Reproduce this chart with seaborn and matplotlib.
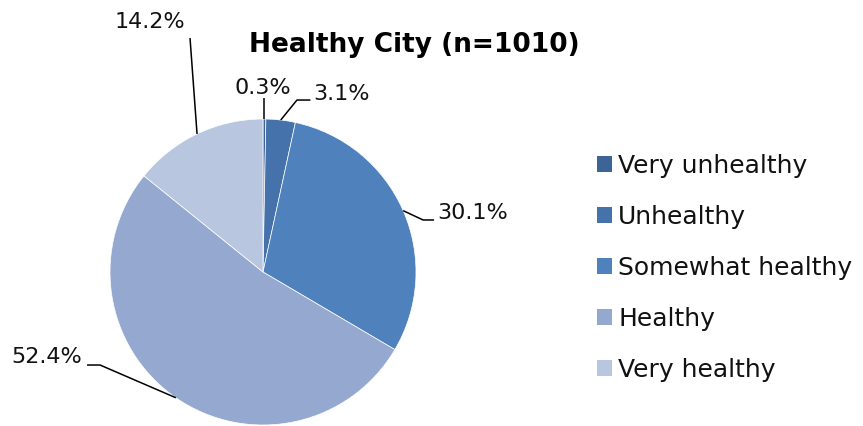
import numpy as np
import matplotlib
matplotlib.use("Agg")
import matplotlib.pyplot as plt
import seaborn as sns

# datos
categorias = ['Very unhealthy', 'Unhealthy', 'Somewhat healthy', 'Healthy', 'Very healthy']
porcentajes = [0.3, 3.1, 30.1, 52.4, 14.2]
colores = ['#3C6496', '#4572AA', '#4F81BD', '#95A9D0', '#B9C6E0']
titulo = 'Healthy City (n=1010)'

sns.set_theme(style="white")
plt.rcParams['font.family'] = ['DejaVu Sans']

fig = plt.figure(figsize=(8.63, 4.26), dpi=100)
ax = fig.add_axes([0, 0, 1, 1])

wedges, _ = ax.pie(porcentajes, colors=colores, startangle=90, counterclock=False,
                   radius=1, center=(0, 0), wedgeprops=dict(linewidth=0.5, edgecolor='white'))

# limites para que el pie quede en su sitio (px / 153)
ax.set_xlim(-263 / 153, 600 / 153)
ax.set_ylim(-154 / 153, 272 / 153)
ax.set_aspect('equal')
ax.axis('off')

# lineas guia: (codo, fin, pos texto, alineacion)
guias = [
    (None, (0.0, 1.14), (0.0, 1.20), 'center'),
    ((0.222, 1.124), (0.31, 1.124), (0.33, 1.165), 'left'),
    ((1.046, 0.340), (1.118, 0.340), (1.14, 0.386), 'left'),
    ((-1.065, -0.608), (-1.150, -0.608), (-1.183, -0.556), 'right'),
    (None, (-0.477, 1.529), (-0.739, 1.634), 'center'),
]

for w, p, (codo, fin, pos, ha) in zip(wedges, porcentajes, guias):
    ang = np.deg2rad((w.theta1 + w.theta2) / 2)
    ancla = (np.cos(ang), np.sin(ang))
    if codo is None:
        if fin[0] == 0.0:
            xs = [ancla[0], ancla[0]]
            ys = [ancla[1], fin[1]]
        else:
            xs = [ancla[0], fin[0]]
            ys = [ancla[1], fin[1]]
    else:
        xs = [ancla[0], codo[0], fin[0]]
        ys = [ancla[1], codo[1], fin[1]]
    ax.plot(xs, ys, color='black', lw=1.1, solid_capstyle='butt')
    ax.text(pos[0], pos[1], f'{p}%', ha=ha, va='center', fontsize=16, color='#111111')

fig.text(414 / 863, 1 - 45 / 426, titulo, ha='center', va='center',
         fontsize=19, fontweight='bold', color='black')

leg = ax.legend(wedges, categorias, loc='upper left',
                bbox_to_anchor=(597 / 863, 1 - 154 / 426), bbox_transform=fig.transFigure,
                frameon=False, fontsize=18, handlelength=0.6, handleheight=0.6,
                handletextpad=0.25, labelspacing=1.08, borderpad=0, borderaxespad=0)
for h in leg.legend_handles:
    h.set_edgecolor('none')
for t in leg.get_texts():
    t.set_color('#111111')

fig.savefig('out.png', dpi=100)
